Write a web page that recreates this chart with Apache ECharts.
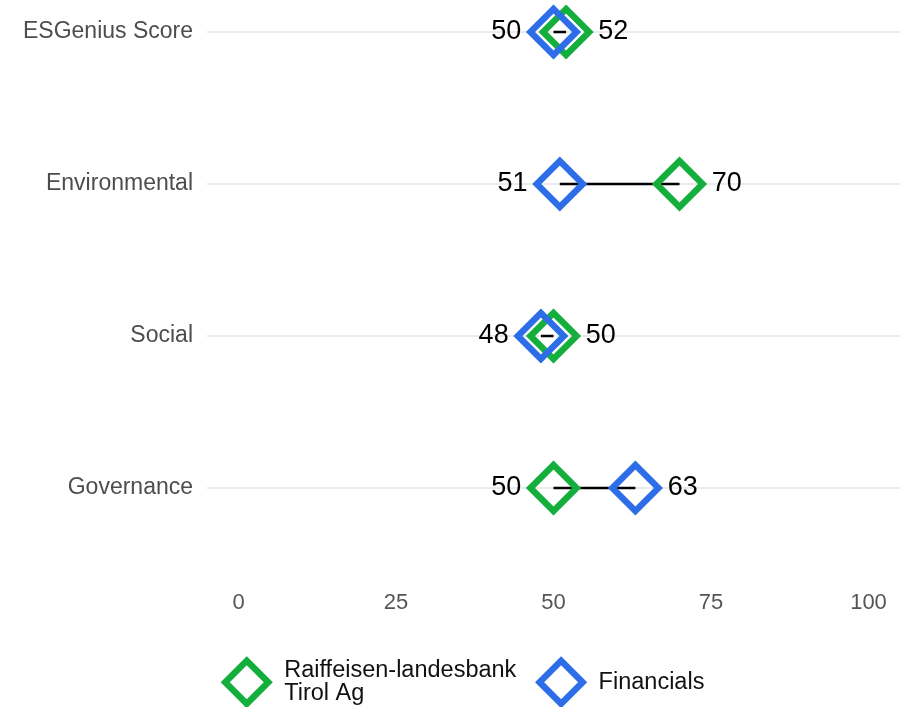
<!DOCTYPE html>
<html>
<head>
<meta charset="utf-8">
<script src="https://cdn.jsdelivr.net/npm/echarts@6/dist/echarts.min.js"></script>
<style>html,body{margin:0;padding:0;background:#fff}#c{width:915px;height:707px}</style>
</head>
<body>
<div id="c"></div>
<script>
const categories = ['ESGenius Score', 'Environmental', 'Social', 'Governance'];
const companyName = 'Raiffeisen-landesbank Tirol Ag';
const companyLegendLabel = 'Raiffeisen-landesbank\nTirol Ag';
const benchmarkName = 'Financials';
const companyValues = [52, 70, 50, 50];
const benchmarkValues = [50, 51, 48, 63];
const xTicks = [0, 25, 50, 75, 100];

const GREEN = '#14ae3c';
const BLUE = '#2d6ee8';
const FONT = 'Liberation Sans, Arial, sans-serif';

function labelPos(own, other) { return own <= other ? 'left' : 'right'; }

const chart = echarts.init(document.getElementById('c'), null, {renderer: 'canvas'});

const segData = categories.map((c, i) => [i, companyValues[i], benchmarkValues[i]]);

function scatterData(vals, others) {
  return vals.map((v, i) => ({
    value: [v, i],
    label: {position: labelPos(v, others[i])}
  }));
}

const markerStyle = (col) => ({
  type: 'scatter',
  symbol: 'diamond',
  symbolSize: 46,
  itemStyle: {color: 'rgba(255,255,255,0)', borderColor: col, borderWidth: 6.5, opacity: 1},
  label: {show: true, color: '#000', fontSize: 27, fontFamily: FONT, distance: 6,
          formatter: p => String(p.value[0])},
  emphasis: {disabled: true},
  z: 3
});

chart.setOption({
  animation: false,
  backgroundColor: '#ffffff',
  grid: {left: 207, right: 15, top: 32, bottom: 219, containLabel: false},
  xAxis: {
    type: 'value', min: -5, max: 105,
    axisLine: {show: false}, axisTick: {show: false},
    splitLine: {show: false},
    axisLabel: {customValues: xTicks, color: '#555', fontSize: 22, margin: 104, fontFamily: FONT}
  },
  yAxis: {
    type: 'category', data: categories, inverse: true, boundaryGap: false,
    axisLine: {show: false}, axisTick: {show: false},
    splitLine: {show: true, lineStyle: {color: '#ebebeb', width: 2}},
    axisLabel: {color: '#4d4d4d', fontSize: 23, margin: 14, fontFamily: FONT, padding: [3, 0, 0, 0]}
  },
  legend: {
    bottom: 0, left: 222, padding: 0,
    itemWidth: 43, itemHeight: 43, itemGap: 20,
    textStyle: {fontSize: 23.5, color: '#111', fontFamily: FONT, lineHeight: 23, padding: [0, 0, 0, 11]},
    formatter: n => n === companyName ? companyLegendLabel : n,
    data: [
      {name: companyName, icon: 'diamond', itemStyle: {color: 'rgba(255,255,255,0)', borderColor: GREEN, borderWidth: 6.5, opacity: 1}},
      {name: benchmarkName, icon: 'diamond', itemStyle: {color: 'rgba(255,255,255,0)', borderColor: BLUE, borderWidth: 6.5, opacity: 1}}
    ]
  },
  series: [
    {
      type: 'custom', name: 'segment', z: 2, silent: true,
      renderItem: (params, api) => {
        const a = api.coord([api.value(1), api.value(0)]);
        const b = api.coord([api.value(2), api.value(0)]);
        return {type: 'line', shape: {x1: a[0], y1: a[1], x2: b[0], y2: b[1]},
                style: {stroke: '#000', lineWidth: 2.5}};
      },
      encode: {x: [1, 2], y: 0},
      data: segData
    },
    Object.assign(markerStyle(GREEN), {name: companyName, data: scatterData(companyValues, benchmarkValues)}),
    Object.assign(markerStyle(BLUE), {name: benchmarkName, data: scatterData(benchmarkValues, companyValues)})
  ]
});
</script>
</body>
</html>
